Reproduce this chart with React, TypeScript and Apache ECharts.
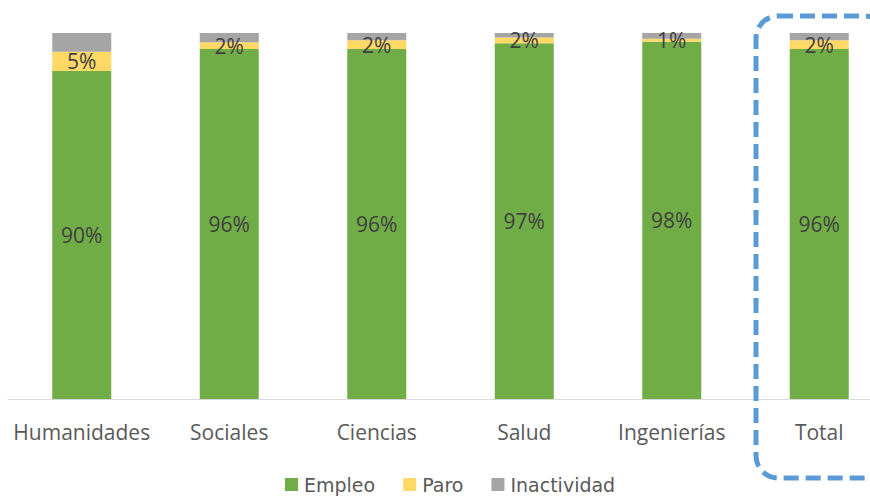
import React, { useEffect, useRef } from "react";
import * as echarts from "echarts";

const categories = ["Humanidades", "Sociales", "Ciencias", "Salud", "Ingenierías", "Total"];
const empleo = [89.6, 95.6, 95.6, 97.2, 97.6, 95.6];
const paro = [5.3, 1.9, 2.45, 1.6, 0.8, 2.4];
const inactividad = [5.1, 2.5, 1.95, 1.2, 1.6, 2.0];
const legendNames = ["Empleo", "Paro", "Inactividad"];

const FONT = "Open Sans";

export default function App() {
  const ref = useRef<HTMLDivElement>(null);
  useEffect(() => {
    document.body.style.overflow = "hidden";
    if (!ref.current) return;
    const chart = echarts.init(ref.current, null, { renderer: "svg" });
    const labelStyle = {
      show: true,
      position: "inside",
      color: "#404040",
      fontFamily: FONT,
      fontSize: 21,
      formatter: (p: any) => Math.round(p.value) + "%",
    };
    chart.setOption({
      animation: false,
      backgroundColor: "#ffffff",
      grid: { left: 8, top: 33, width: 885, bottom: 97, containLabel: false },
      xAxis: {
        type: "category",
        data: categories,
        axisLine: { show: true, lineStyle: { color: "#D9D9D9", width: 1 } },
        axisTick: { show: false },
        axisLabel: { color: "#595959", fontFamily: FONT, fontSize: 21, margin: 22, interval: 0 },
      },
      yAxis: {
        type: "value",
        min: 0,
        max: 100,
        show: false,
        splitLine: { show: false },
      },
      legend: {
        left: 285,
        top: 475,
        padding: 0,
        itemWidth: 13,
        itemHeight: 13,
        itemGap: 28,
        icon: "rect",
        textStyle: { color: "#595959", fontFamily: "DejaVu Sans", fontSize: 19, lineHeight: 18, padding: [0, 0, 0, 1] },
        data: legendNames,
      },
      series: [
        {
          name: legendNames[0],
          type: "bar",
          stack: "t",
          barWidth: 59,
          data: empleo,
          itemStyle: { color: "#70AD47" },
          label: labelStyle,
        },
        {
          name: legendNames[1],
          type: "bar",
          stack: "t",
          barWidth: 59,
          data: paro,
          itemStyle: { color: "#FFD966" },
          label: labelStyle,
        },
        {
          name: legendNames[2],
          type: "bar",
          stack: "t",
          barWidth: 59,
          data: inactividad,
          itemStyle: { color: "#A5A5A5" },
          label: { show: false },
        },
      ],
      graphic: [
        {
          type: "rect",
          shape: { x: 756, y: 16, width: 130, height: 462, r: 22 },
          style: { fill: "none", stroke: "#5B9BD5", lineWidth: 5, lineDash: [15, 7] },
          z: 100,
        },
      ],
    });
    return () => chart.dispose();
  }, []);
  return (
    <div
      ref={ref}
      style={{ position: "fixed", left: 0, top: 0, width: 910, height: 496, background: "#fff" }}
    />
  );
}
